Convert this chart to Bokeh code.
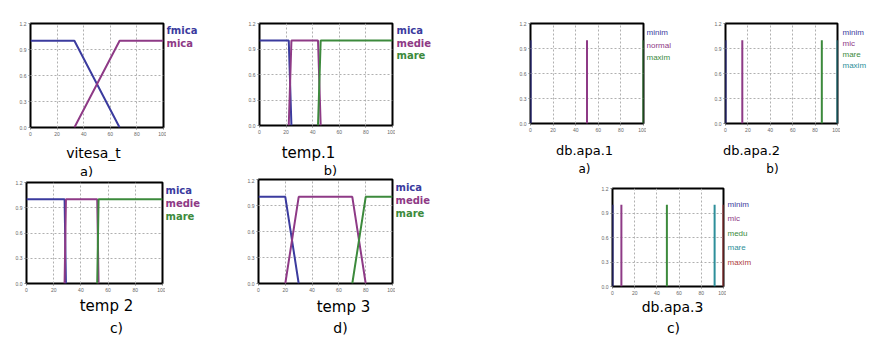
from bokeh.plotting import figure
from bokeh.layouts import row, column
from bokeh.models import FixedTicker, Range1d, CustomJSTickFormatter
from bokeh.core.properties import value
from bokeh.embed import file_html
from bokeh.resources import INLINE

BLUE = "#3b3b9e"
PURPLE = "#8e3a86"
GREEN = "#3c8a3c"
CYAN = "#2e8f9a"
RED = "#b04040"

x_ticks = [0, 20, 40, 60, 80, 100]
y_ticks = [0.0, 0.3, 0.6, 0.9, 1.2]

# a) vitesa_t
vit_fmica_x = [0, 33, 67]
vit_fmica = [1, 1, 0]
vit_mica_x = [33, 67, 100]
vit_mica = [0, 1, 1]

# b) temp.1
t1_mica_x = [0, 22, 24]
t1_mica = [1, 1, 0]
t1_medie_x = [22, 24, 44, 46]
t1_medie = [0, 1, 1, 0]
t1_mare_x = [44, 46, 100]
t1_mare = [0, 1, 1]

# c) temp 2
t2_mica_x = [0, 28, 29]
t2_mica = [1, 1, 0]
t2_medie_x = [28, 29, 52, 53]
t2_medie = [0, 1, 1, 0]
t2_mare_x = [52, 53, 100]
t2_mare = [0, 1, 1]

# d) temp 3
t3_mica_x = [0, 20, 30]
t3_mica = [1, 1, 0]
t3_medie_x = [20, 30, 70, 80]
t3_medie = [0, 1, 1, 0]
t3_mare_x = [70, 80, 100]
t3_mare = [0, 1, 1]

# db.apa singletons
a1_names = ["minim", "normal", "maxim"]
a1_pos = [0, 50, 100]
a2_names = ["minim", "mic", "mare", "maxim"]
a2_pos = [0, 15, 86, 100]
a3_names = ["minim", "mic", "medu", "mare", "maxim"]
a3_pos = [0, 8, 49, 92, 100]
singleton_height = 1.0

fuzzy3_names = ["mica", "medie", "mare"]


def plot_fig(pw, ph, bl, bt, fw, fh):
    p = figure(frame_width=fw, frame_height=fh,
               min_border_left=bl, min_border_right=pw - bl - fw,
               min_border_top=bt, min_border_bottom=ph - bt - fh,
               x_range=Range1d(0, 100), y_range=Range1d(0, 1.2),
               output_backend="svg", toolbar_location=None)
    p.outline_line_color = "black"
    p.outline_line_width = 2
    p.background_fill_color = "white"
    p.border_fill_color = "white"
    for ax in (p.xaxis, p.yaxis):
        ax.axis_line_color = None
        ax.major_tick_line_color = "#777777"
        ax.major_tick_out = 2
        ax.major_tick_in = 0
        ax.minor_tick_line_color = None
        ax.major_label_text_font_size = "5px"
        ax.major_label_text_color = "#666666"
        ax.major_label_standoff = 2
    p.xaxis.ticker = FixedTicker(ticks=x_ticks)
    p.yaxis.ticker = FixedTicker(ticks=y_ticks)
    p.yaxis.formatter = CustomJSTickFormatter(code="return tick.toFixed(1);")
    p.xgrid.ticker = FixedTicker(ticks=x_ticks)
    p.ygrid.ticker = FixedTicker(ticks=y_ticks)
    for g in (p.xgrid, p.ygrid):
        g.grid_line_color = "#b0b0b0"
        g.grid_line_dash = "2 2"
        g.grid_line_width = 1
    return p


def legend_fig(w, bt, fh, bb):
    # same vertical borders as the neighbouring plot, so frames line up;
    # y range expressed in pixel rows of the figure (top-down)
    p = figure(frame_width=w, frame_height=fh, min_border_left=0, min_border_right=0,
               min_border_top=bt, min_border_bottom=bb,
               x_range=Range1d(0, w), y_range=Range1d(bt + fh, bt),
               x_axis_location=None, y_axis_location=None,
               toolbar_location=None, output_backend="svg")
    p.grid.visible = False
    p.outline_line_color = None
    p.background_fill_color = "white"
    p.border_fill_color = "white"
    return p


def caption_fig(w, h):
    p = figure(width=w, height=h, x_range=Range1d(0, w), y_range=Range1d(h, 0),
               min_border=0, x_axis_location=None, y_axis_location=None,
               toolbar_location=None, output_backend="svg")
    p.grid.visible = False
    p.outline_line_color = None
    p.background_fill_color = "white"
    p.border_fill_color = "white"
    return p


def panel(cl, ct, cw, ch, fl, ft, fw, fh, bb, draw, legend, captions):
    pw = fl - cl + fw + 3
    ph = ft - ct + fh + bb
    bt = ft - ct
    p = plot_fig(pw, ph, fl - cl, bt, fw, fh)
    draw(p)
    leg = legend_fig(cw - pw, bt, fh, bb)
    lx, lys, names, colors, size, font, style = legend
    leg.text(x=[max(0, lx - (cl + pw))] * len(names), y=[yy - ct for yy in lys], text=names,
             text_color=colors, text_font_size=value(size), text_font=value(font),
             text_font_style=style, text_align="left", text_baseline="middle")
    cap = caption_fig(cw, ch - ph)
    for (cx, cy, txt, size) in captions:
        cap.text(x=[cx - cl], y=[cy - (ct + ph)], text=[txt], text_color="black",
                 text_font_size=value(size), text_font=value("DejaVu Sans"),
                 text_align="center", text_baseline="middle")
    return column(row(p, leg), cap)


def fuzzy3(mx, m, dx, d, rx, r):
    def f(p):
        p.line(mx, m, color=BLUE, line_width=2)
        p.line(dx, d, color=PURPLE, line_width=2)
        p.line(rx, r, color=GREEN, line_width=2)
    return f


def draw_vit(p):
    p.line(vit_fmica_x, vit_fmica, color=BLUE, line_width=2)
    p.line(vit_mica_x, vit_mica, color=PURPLE, line_width=2)


def singletons(pos, colors):
    def f(p):
        p.segment(x0=pos, y0=[0] * len(pos), x1=pos, y1=[singleton_height] * len(pos),
                  color=colors, line_width=2)
    return f


c3 = [BLUE, PURPLE, GREEN]
c4 = [BLUE, PURPLE, GREEN, CYAN]
c5 = [BLUE, PURPLE, GREEN, CYAN, RED]

P1 = panel(0, 0, 223, 178, 30, 23, 133, 104, 14, draw_vit,
           (166, [30, 43], ["fmica", "mica"], [BLUE, PURPLE], "10px", "DejaVu Sans", "bold"),
           [(93, 152, "vitesa_t", "14px"), (86, 171, "a)", "13px")])
P2 = panel(223, 0, 265, 178, 259, 23, 133, 102, 14,
           fuzzy3(t1_mica_x, t1_mica, t1_medie_x, t1_medie, t1_mare_x, t1_mare),
           (396, [30, 43, 55], fuzzy3_names, c3, "10px", "DejaVu Sans", "bold"),
           [(308, 152, "temp.1", "15px"), (330, 170, "b)", "13px")])
P3 = panel(488, 0, 210, 178, 530, 23, 113, 100, 14, singletons(a1_pos, c3),
           (646, [32, 45, 57], a1_names, c3, "8px", "Liberation Sans", "normal"),
           [(584, 150, "db.apa.1", "13px"), (584, 168, "a)", "12px")])
P4 = panel(698, 0, 171, 178, 725, 23, 112, 100, 14, singletons(a2_pos, c4),
           (842, [32, 43, 54, 65], a2_names, c4, "8px", "Liberation Sans", "normal"),
           [(751, 150, "db.apa.2", "13px"), (772, 168, "b)", "12px")])
P5 = panel(0, 178, 223, 160, 26, 182, 136, 101, 12,
           fuzzy3(t2_mica_x, t2_mica, t2_medie_x, t2_medie, t2_mare_x, t2_mare),
           (165, [190, 203, 216], fuzzy3_names, c3, "10px", "DejaVu Sans", "bold"),
           [(106, 305, "temp 2", "15px"), (116, 327, "c)", "14px")])
P6 = panel(223, 178, 265, 160, 258, 179, 134, 104, 12,
           fuzzy3(t3_mica_x, t3_mica, t3_medie_x, t3_medie, t3_mare_x, t3_mare),
           (395, [187, 200, 213], fuzzy3_names, c3, "10px", "DejaVu Sans", "bold"),
           [(343, 306, "temp 3", "15px"), (340, 327, "d)", "14px")])
P7 = panel(488, 178, 381, 160, 612, 188, 111, 98, 11, singletons(a3_pos, c5),
           (727, [204, 218, 233, 247, 262], a3_names, c5, "8px", "Liberation Sans", "normal"),
           [(672, 306, "db.apa.3", "14px"), (673, 327, "c)", "14px")])

layout = row(column(P1, P5), column(P2, P6), column(row(P3, P4), P7))

open("out.html", "w").write(file_html(layout, INLINE))
